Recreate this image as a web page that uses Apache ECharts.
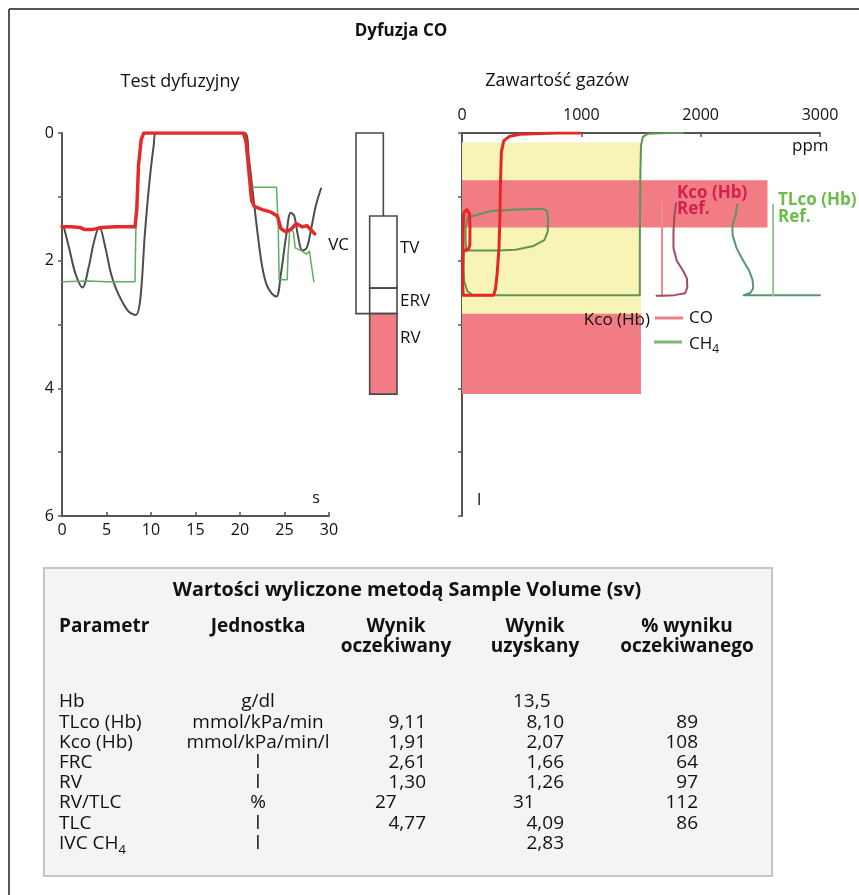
<!DOCTYPE html>
<html>
<head>
<meta charset="utf-8">
<script src="https://cdn.jsdelivr.net/npm/echarts@6/dist/echarts.min.js"></script>
<style>
html,body{margin:0;padding:0;background:#fff}
#chart{width:859px;height:895px}
</style>
</head>
<body>
<div id="chart"></div>
<script>
// ---- Diffusion manoeuvre: volume below full inspiration (l) against time (s) ----
const volumeTrace = [[0.2,1.47],[0.8,1.8],[1.5,2.2],[2.3,2.42],[3,2.1],[3.6,1.7],[4.2,1.47],[4.8,1.75],[5.5,2.2],[6.1,2.45],[6.8,2.65],[7.5,2.8],[8.3,2.85],[8.8,2.6],[9.3,1.6],[9.8,0.8],[10.3,0.2],[10.6,0],[15,0],[20.5,0],[21,0.4],[21.5,1.0],[22,1.6],[22.5,2.1],[23,2.38],[23.6,2.52],[24.1,2.56],[24.6,2.2],[25.2,1.6],[25.7,1.25],[26.1,1.3],[26.5,1.6],[27,1.84],[27.5,1.8],[28,1.5],[28.5,1.15],[29.1,0.87]];
const coTrace = [[0,1.47],[1,1.47],[2,1.48],[2.5,1.51],[3.5,1.51],[4.5,1.48],[6,1.47],[8.2,1.47],[8.4,1.2],[8.6,0.5],[8.9,0.1],[9.2,0],[12,0],[16,0],[20.4,0],[20.7,0.15],[21,0.6],[21.3,1.05],[21.6,1.15],[22.5,1.2],[23.5,1.24],[24.2,1.3],[24.6,1.5],[25.2,1.55],[25.8,1.5],[26.3,1.42],[27,1.47],[27.5,1.45],[28,1.52],[28.4,1.58]];
const ch4Trace = [[0,2.33],[3,2.32],[5,2.33],[8.2,2.33],[8.3,1.5],[8.5,0.8],[8.8,0.2],[9.1,0],[20.5,0],[20.9,0.5],[21.3,0.85],[24.1,0.85],[24.3,1.5],[24.4,2.3],[25.3,2.3],[25.4,1.9],[25.6,1.5],[26,1.55],[26.2,1.8],[27,1.85],[27.5,1.9],[27.8,1.85],[28,2.05],[28.3,2.33]];

// ---- Lung volume compartments (top / bottom level, l) ----
const boxNames = ['VC', 'TV', 'ERV', 'RV'];
const boxTop = [0, 1.30, 2.43, 2.83];
const boxBottom = [2.83, 2.43, 2.83, 4.09];

// ---- Gas content: ranges (ppm extent, top / bottom level, l) ----
const bandPpm = [1500, 2560, 1500];
const bandTop = [0.15, 0.74, 2.83];
const bandBottom = [2.83, 1.48, 4.09];

// ---- Gas content curves (ppm, l) ----
const gasCO = [[990,0],[800,0],[600,0.01],[485,0.02],[400,0.05],[350,0.12],[330,0.3],[322,0.8],[318,1.3],[310,1.8],[295,2.2],[280,2.45],[265,2.54],[120,2.54],[10,2.54],[5,2.35],[8,1.9],[10,1.45],[15,1.25],[40,1.2],[62,1.26],[67,1.45],[66,1.75],[55,1.82],[20,1.84]];
const gasCH4 = [[1850,0],[1700,0],[1560,0.01],[1515,0.06],[1500,0.2],[1495,0.6],[1492,1.2],[1490,1.8],[1490,2.54],[600,2.54],[90,2.54],[45,2.48],[18,2.32],[12,2.1],[15,1.86],[50,1.84],[300,1.84],[450,1.83],[600,1.77],[690,1.68],[718,1.55],[722,1.35],[712,1.22],[680,1.19],[450,1.2],[250,1.22],[90,1.3],[45,1.33],[30,1.5],[30,1.7],[35,1.83]];
const kcoRef = [[1676,1.07],[1676,2.54]];
const kcoCurve = [[1794,1.1],[1780,1.3],[1772,1.55],[1772,1.8],[1800,2.0],[1850,2.15],[1885,2.28],[1888,2.42],[1870,2.51],[1780,2.54],[1680,2.55],[1630,2.55]];
const tlcoCurve = [[2305,1.12],[2295,1.28],[2265,1.45],[2268,1.6],[2300,1.8],[2350,1.98],[2405,2.15],[2435,2.3],[2440,2.43],[2420,2.5],[2380,2.53],[2360,2.54],[2500,2.54],[3000,2.54]];
const tlcoRef = [[2607,1.12],[2607,2.54]];

// ---- Axis ticks ----
const timeTicks = [0, 5, 10, 15, 20, 25, 30];
const volumeTicks = [0, 1, 2, 3, 4, 5, 6];
const ppmTicks = [0, 1000, 2000, 3000];

// ---- Results table ----
const tableTitle = 'Wartości wyliczone metodą Sample Volume (sv)';
const tableHeaders = ['Parametr', 'Jednostka', 'Wynik\noczekiwany', 'Wynik\nuzyskany', '% wyniku\noczekiwanego'];
const tableParams = ['Hb', 'TLco (Hb)', 'Kco (Hb)', 'FRC', 'RV', 'RV/TLC', 'TLC', 'IVC CH4'];
const tableUnits = ['g/dl', 'mmol/kPa/min', 'mmol/kPa/min/l', 'l', 'l', '%', 'l', 'l'];
const tableExpected = ['', '9,11', '1,91', '2,61', '1,30', '27', '4,77', ''];
const tableObtained = ['13,5', '8,10', '2,07', '1,66', '1,26', '31', '4,09', '2,83'];
const tablePercent = ['', '89', '108', '64', '97', '112', '86', ''];

const FONT = "'Open Sans', sans-serif";
const AXIS = '#555';
const INK = '#111';

const chart = echarts.init(document.getElementById('chart'), null, {renderer: 'canvas'});

function trace(data, axis, color, width, z, smooth) {
  return {
    type: 'line', data: data, xAxisIndex: axis, yAxisIndex: axis,
    symbol: 'none', showSymbol: false, smooth: smooth || false, silent: true, z: z,
    lineStyle: {color: color, width: width, join: 'round', cap: 'round'}
  };
}

function txt(x, y, text, opt) {
  opt = opt || {};
  return {
    type: 'text', x: x, y: y, z: 20, silent: true,
    style: Object.assign({
      text: text, fill: INK, fontFamily: FONT, fontSize: 17,
      align: 'left', verticalAlign: 'middle'
    }, opt)
  };
}

function subscriptRich(s) {
  return s.replace(/CH4$/, 'CH{sub|4}');
}

const boxData = boxNames.map((n, i) => [i, boxTop[i], boxBottom[i]]);
const bandData = bandPpm.map((p, i) => [p, bandTop[i], bandBottom[i]]);
const bandColors = ['#f8f4b6', '#f27c83', '#f27c83'];

const graphic = [];
// page frame
graphic.push({type: 'line', silent: true, shape: {x1: 9, y1: 9, x2: 9, y2: 895}, style: {stroke: '#555', lineWidth: 2}});
graphic.push({type: 'line', silent: true, shape: {x1: 9, y1: 9, x2: 859, y2: 9}, style: {stroke: '#555', lineWidth: 2}});

// headings
graphic.push(txt(401, 31, 'Dyfuzja CO', {fontWeight: 'bold', align: 'center'}));
graphic.push(txt(180, 82, 'Test dyfuzyjny', {fontSize: 18, align: 'center'}));
graphic.push(txt(557, 81, 'Zawartość gazów', {fontSize: 18, align: 'center'}));
graphic.push(txt(316, 498, 's', {fontSize: 16, align: 'center'}));
graphic.push(txt(792, 146, 'ppm', {fontSize: 17}));
graphic.push(txt(477, 500, 'l', {fontSize: 17}));

// compartment labels
graphic.push(txt(349, 245, 'VC', {align: 'right'}));
graphic.push(txt(400, 248, 'TV'));
graphic.push(txt(400, 301, 'ERV'));
graphic.push(txt(400, 338, 'RV'));

// reference labels
graphic.push(txt(677, 201, 'Kco (Hb)\nRef.', {fontWeight: 'bold', fill: '#d42050', lineHeight: 16}));
graphic.push(txt(778, 209, 'TLco (Hb)\nRef.', {fontWeight: 'bold', fill: '#6dbb4a', lineHeight: 17}));

// legend
graphic.push(txt(650, 320, 'Kco (Hb)', {align: 'right'}));
graphic.push({type: 'line', silent: true, z: 20, shape: {x1: 655, y1: 318, x2: 683, y2: 318}, style: {stroke: '#ee8088', lineWidth: 3}});
graphic.push(txt(689, 318, 'CO'));
graphic.push({type: 'line', silent: true, z: 20, shape: {x1: 654, y1: 342, x2: 682, y2: 342}, style: {stroke: '#7db57d', lineWidth: 3}});
graphic.push(txt(689, 344, '{n|CH}{sub|4}', {lineHeight: 22, rich: {n: {fontSize: 17, fontFamily: FONT, fill: INK}, sub: {fontSize: 12, fontFamily: FONT, fill: INK, verticalAlign: 'bottom', lineHeight: 24}}}));

// results table
graphic.push({type: 'rect', silent: true, z: 5, shape: {x: 44, y: 568, width: 728, height: 308},
  style: {fill: '#f4f4f4', stroke: '#c6c6c6', lineWidth: 2}});
const TF = 19;
graphic.push(txt(407, 590, tableTitle, {fontWeight: 'bold', fontSize: 19.8, align: 'center'}));
const headerX = [59, 258, 396, 535, 687];
tableHeaders.forEach((h, i) => {
  const g = txt(headerX[i], 617, h, {fontWeight: 'bold', fontSize: TF, lineHeight: 20,
    align: i === 0 ? 'left' : 'center', verticalAlign: 'top'});
  graphic.push(g);
});

const rowY0 = 702, rowStep = 20.2;
const twoDecimals = /,\d\d$/;
function cell(value, left, right) {
  return twoDecimals.test(value) ? {x: right, align: 'right'} : {x: left, align: 'left'};
}
tableParams.forEach((p, i) => {
  const y = rowY0 + i * rowStep;
  const ps = {fontSize: TF, rich: {sub: {fontSize: 13, fontFamily: FONT, fill: INK, verticalAlign: 'bottom', lineHeight: 26}}, lineHeight: 20};
  graphic.push(txt(59, y, subscriptRich(p), ps));
  graphic.push(txt(258, y, tableUnits[i], {fontSize: TF, align: 'center'}));
  if (tableExpected[i]) {
    const c = cell(tableExpected[i], 375, 426);
    graphic.push(txt(c.x, y, tableExpected[i], {fontSize: TF, align: c.align}));
  }
  if (tableObtained[i]) {
    const c = cell(tableObtained[i], 513, 564);
    graphic.push(txt(c.x, y, tableObtained[i], {fontSize: TF, align: c.align}));
  }
  if (tablePercent[i]) {
    graphic.push(txt(698, y, tablePercent[i], {fontSize: TF, align: 'right'}));
  }
});

const option = {
  animation: false,
  backgroundColor: '#fff',
  textStyle: {fontFamily: FONT},
  grid: [
    {left: 62, top: 133, width: 267, height: 383},
    {left: 356, top: 133, width: 41, height: 383},
    {left: 462, top: 133, width: 358, height: 383}
  ],
  xAxis: [
    {gridIndex: 0, type: 'value', min: timeTicks[0], max: timeTicks[timeTicks.length - 1], interval: 5,
      axisLine: {onZero: false, lineStyle: {color: AXIS, width: 2}},
      axisTick: {inside: true, length: 4, lineStyle: {color: AXIS, width: 1.5}},
      axisLabel: {color: INK, fontSize: 16, margin: 6, fontFamily: FONT},
      splitLine: {show: false}},
    {gridIndex: 1, type: 'value', min: 0, max: 3, show: false},
    {gridIndex: 2, type: 'value', position: 'top', min: ppmTicks[0], max: ppmTicks[ppmTicks.length - 1], interval: 1000,
      axisLine: {onZero: false, lineStyle: {color: AXIS, width: 2}},
      axisTick: {inside: true, length: 4, lineStyle: {color: AXIS, width: 1.5}},
      axisLabel: {color: INK, fontSize: 16, margin: 10, fontFamily: FONT, formatter: v => String(v)},
      splitLine: {show: false}}
  ],
  yAxis: [
    {gridIndex: 0, type: 'value', inverse: true, min: volumeTicks[0], max: volumeTicks[volumeTicks.length - 1], interval: 1,
      axisLine: {show: true, onZero: false, lineStyle: {color: AXIS, width: 2}},
      axisTick: {show: true, length: 4, lineStyle: {color: AXIS, width: 1.5}},
      axisLabel: {color: INK, fontSize: 16, margin: 8, fontFamily: FONT,
        formatter: v => (v % 2 === 0 ? String(v) : '')},
      splitLine: {show: false}},
    {gridIndex: 1, type: 'value', inverse: true, min: 0, max: 6, show: false},
    {gridIndex: 2, type: 'value', inverse: true, min: 0, max: 6, interval: 1,
      axisLine: {show: true, onZero: false, lineStyle: {color: AXIS, width: 2}},
      axisTick: {show: true, length: 4, lineStyle: {color: AXIS, width: 1.5}},
      axisLabel: {show: false},
      splitLine: {show: false}}
  ],
  series: [
    // gas content ranges
    {type: 'custom', xAxisIndex: 2, yAxisIndex: 2, z: 1, silent: true, data: bandData,
      encode: {x: 0, y: [1, 2]},
      renderItem: function (params, api) {
        const p0 = api.coord([0, api.value(1)]);
        const p1 = api.coord([api.value(0), api.value(2)]);
        return {type: 'rect', shape: {x: p0[0], y: p0[1], width: p1[0] - p0[0], height: p1[1] - p0[1]},
          style: {fill: bandColors[params.dataIndex]}};
      }},
    // lung volume compartments
    {type: 'custom', xAxisIndex: 1, yAxisIndex: 1, z: 2, silent: true, data: boxData,
      encode: {x: 0, y: [1, 2]},
      renderItem: function (params, api) {
        const name = boxNames[params.dataIndex];
        const x0 = name === 'VC' ? 0 : 1, x1 = x0 + 2;
        const p0 = api.coord([x0, api.value(1)]);
        const p1 = api.coord([x1, api.value(2)]);
        return {type: 'rect', shape: {x: p0[0], y: p0[1], width: p1[0] - p0[0], height: p1[1] - p0[1]},
          style: {fill: name === 'RV' ? '#f27c83' : '#fff', stroke: '#4a4a4a', lineWidth: 1.6}};
      }},
    // spirometric traces
    trace(volumeTrace, 0, '#4d4d4d', 2, 3, 0.35),
    trace(ch4Trace, 0, '#5fae5f', 1.5, 4, false),
    trace(coTrace, 0, '#e62a2a', 3.5, 5, false),
    // gas content curves
    trace(gasCH4, 2, '#5f9455', 2, 4, false),
    trace(gasCO, 2, '#e42626', 3, 5, false),
    trace(kcoRef, 2, '#f08a90', 2, 4, false),
    trace(kcoCurve, 2, '#a8485a', 2, 4, false),
    trace(tlcoCurve, 2, '#5b9670', 2, 4, false),
    trace(tlcoRef, 2, '#92c792', 2, 4, false)
  ],
  graphic: graphic
};
chart.setOption(option);
</script>
</body>
</html>
